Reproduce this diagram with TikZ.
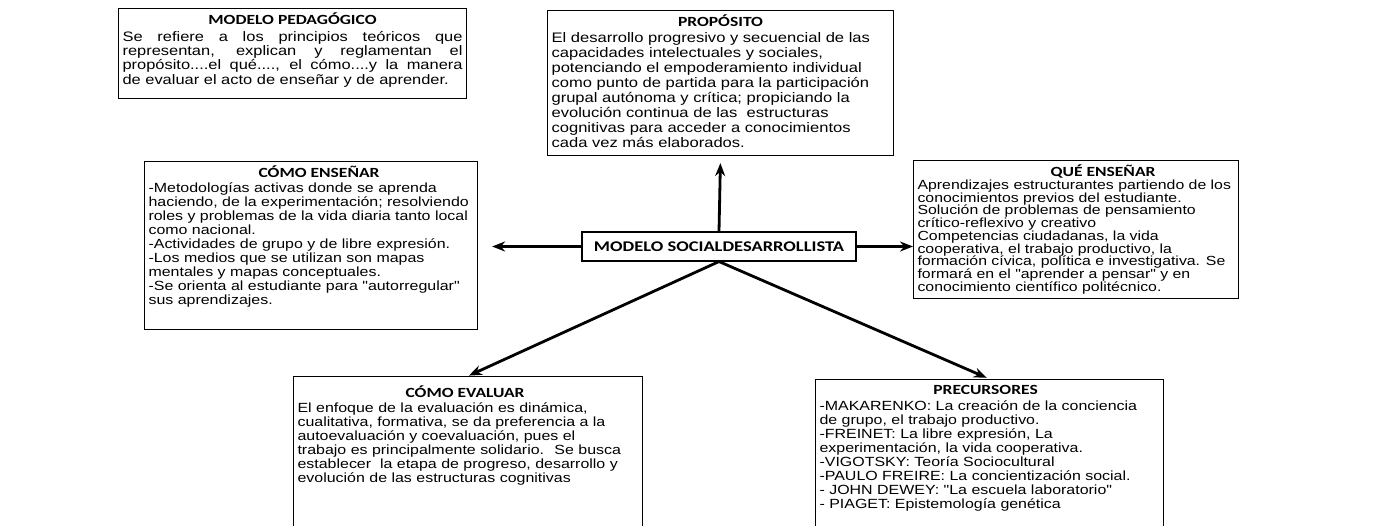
\documentclass[tikz,border=0pt]{standalone}
\usepackage{fontspec}
\setmainfont{Liberation Sans}
\newfontfamily\bodyf[FakeStretch=1.2]{Liberation Sans}
\newfontfamily\titf[FakeStretch=1.25]{Carlito}
\usetikzlibrary{arrows.meta}
\newcommand\bodyset[2][14]{\bodyf\fontsize{#2}{#1}\selectfont}
\newcommand\titset{\titf\bfseries\fontsize{14}{14}\selectfont}
\tikzset{
  box/.style={draw=black, line width=1.1pt, inner sep=0pt, anchor=north west, fill=white},
  arr/.style={line width=2.8pt, -{Stealth[length=13pt,width=10pt]}},
}
\begin{document}
\begin{tikzpicture}[x=1pt,y=-1pt]
\path[use as bounding box, fill=white] (0,0) rectangle (1378,525);

\node[box] (ped) at (118,8) {\begin{minipage}[t][90pt][t]{348pt}%
  \vspace*{4pt}\makebox[\linewidth]{\titset MODELO PEDAGÓGICO}\par\vspace{3pt}
  \bodyset[14.2]{13.7}\leftskip=4pt\parindent=0pt
  \makebox[340pt][s]{Se refiere a los principios teóricos que}\\
  \makebox[340pt][s]{representan, explican y reglamentan el}\\
  \makebox[340pt][s]{propósito....el qué...., el cómo....y la manera}\\
  de evaluar el acto de enseñar y de aprender.\end{minipage}};

\node[box] (prop) at (547,10) {\begin{minipage}[t][145pt][t]{346pt}%
  \vspace*{4pt}\makebox[\linewidth]{\titset PROPÓSITO}\par\vspace{1.5pt}
  \bodyset[14.9]{13.8}\raggedright\leftskip=4pt\parindent=0pt
  El desarrollo progresivo y secuencial de las\\
  capacidades intelectuales y sociales,\\
  potenciando el empoderamiento individual\\
  como punto de partida para la participación\\
  grupal autónoma y crítica; propiciando la\\
  evolución continua de las~ estructuras\\
  cognitivas para acceder a conocimientos\\
  cada vez más elaborados.\end{minipage}};

\node[box] (como) at (144,161) {\begin{minipage}[t][168pt][t]{333pt}%
  \vspace*{4pt}\makebox[\linewidth]{\hspace*{16pt}\titset CÓMO ENSEÑAR}\par\vspace{1.5pt}
  \bodyset{13.3}\raggedright\leftskip=4pt\parindent=0pt
  -Metodologías activas donde se aprenda\\
  haciendo, de la experimentación; resolviendo\\
  roles y problemas de la vida diaria tanto local\\
  como nacional.\\
  -Actividades de grupo y de libre expresión.\\
  -Los medios que se utilizan son mapas\\
  mentales y mapas conceptuales.\\
  -Se orienta al estudiante para "autorregular"\\
  sus aprendizajes.\end{minipage}};

\node[box] (que) at (913,160) {\begin{minipage}[t][138pt][t]{325pt}%
  \vspace*{4pt}\makebox[\linewidth]{\hspace*{54pt}\titset QUÉ ENSEÑAR}\par\vspace{0.5pt}
  \bodyset[12.7]{13.2}\raggedright\leftskip=4pt\parindent=0pt
  Aprendizajes estructurantes partiendo de los\\
  conocimientos previos del estudiante.\\
  Solución de problemas de pensamiento\\
  crítico-reflexivo y creativo\\
  Competencias ciudadanas, la vida\\
  cooperativa, el trabajo productivo, la\\
  formación cívica, política e investigativa. Se\\
  formará en el "aprender a pensar" y en\\
  conocimiento científico politécnico.\end{minipage}};

\node[box] (eval) at (293,376) {\begin{minipage}[t][160pt][t]{349pt}%
  \vspace*{9pt}\makebox[\linewidth]{\hspace*{-6pt}\titset CÓMO EVALUAR}\par\vspace{1.5pt}
  \bodyset{13.3}\raggedright\leftskip=4pt\parindent=0pt
  El enfoque de la evaluación es dinámica,\\
  cualitativa, formativa, se da preferencia a la\\
  autoevaluación y coevaluación, pues el\\
  trabajo es principalmente solidario.~ Se busca\\
  establecer~ la etapa de progreso, desarrollo y\\
  evolución de las estructuras cognitivas\end{minipage}};

\node[box] (prec) at (815,379) {\begin{minipage}[t][155pt][t]{348pt}%
  \vspace*{6pt}\makebox[\linewidth]{\hspace*{-8pt}\titset PRECURSORES}\par\vspace{1.5pt}
  \bodyset{13.3}\raggedright\leftskip=4pt\parindent=0pt
  -MAKARENKO: La creación de la conciencia\\
  de grupo, el trabajo productivo.\\
  -FREINET: La libre expresión, La\\
  experimentación, la vida cooperativa.\\
  -VIGOTSKY: Teoría Sociocultural\\
  -PAULO FREIRE: La concientización social.\\
  - JOHN DEWEY: "La escuela laboratorio"\\
  - PIAGET: Epistemología genética\end{minipage}};

\node[draw=black, line width=1.1pt, fill=white, minimum width=274pt, minimum height=29pt, inner sep=0pt]
  (center) at (719,246.5) {\titf\bfseries\fontsize{14.8}{14.8}\selectfont MODELO SOCIALDESARROLLISTA};

\draw[arr, shorten >=7pt] (center.north) -- (prop.south);
\draw[arr, shorten >=14pt] (center.west) -- (center.west -| como.east);
\draw[arr] (center.east) -- (center.east -| que.west);
\draw[arr, shorten >=1pt] (center.south) -- (eval.north);
\draw[arr, shorten >=3pt] (center.south) -- (prec.north);
\end{tikzpicture}
\end{document}
